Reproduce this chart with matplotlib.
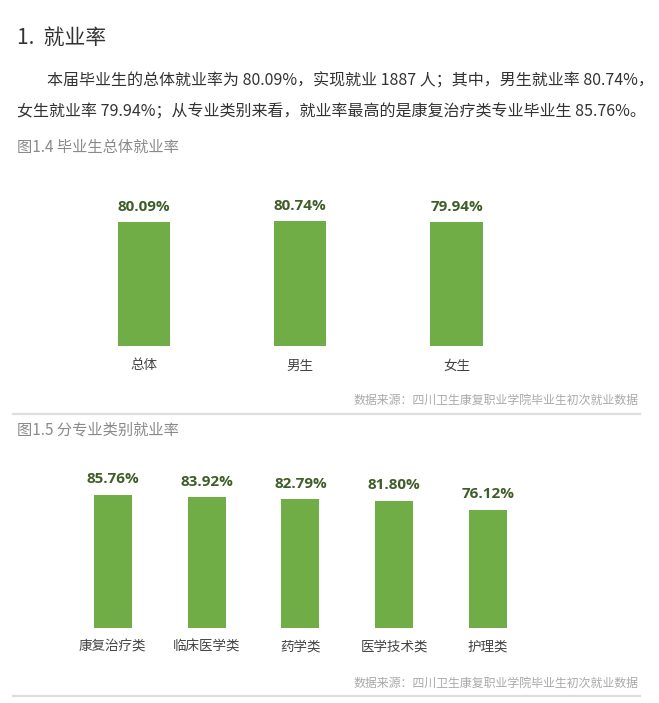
import matplotlib.pyplot as plt

plt.rcParams['font.family'] = ['Noto Sans CJK SC', 'DejaVu Sans']

# ── Data ──────────────────────────────────────────────────────────────────────
overall_cats = ["总体", "男生", "女生"]
overall_rates = [80.09, 80.74, 79.94]

major_cats = ["康复治疗类", "临床医学类", "药学类", "医学技术类", "护理类"]
major_rates = [85.76, 83.92, 82.79, 81.80, 76.12]

heading = "1.  就业率"
para_1 = "本届毕业生的总体就业率为 80.09%，实现就业 1887 人；其中，男生就业率 80.74%，"
para_2 = "女生就业率 79.94%；从专业类别来看，就业率最高的是康复治疗类专业毕业生 85.76%。"
title_1 = "图1.4 毕业生总体就业率"
title_2 = "图1.5 分专业类别就业率"
source = "数据来源：四川卫生康复职业学院毕业生初次就业数据"

bar_color = "#70ad47"
val_color = "#3e5e27"

W, H = 659, 703
fig = plt.figure(figsize=(W / 100, H / 100), dpi=100)


def px(x, y):
    # pixel coords (top-left origin) -> figure fraction
    return x / W, 1 - y / H


def bar_panel(left, right, zero_y, cats, vals, width):
    ax = fig.add_axes([left / W, 1 - zero_y / H, (right - left) / W, 155 / H])
    xs = range(len(cats))
    ax.bar(xs, vals, width=width, color=bar_color)
    ax.set_xlim(-0.5, len(cats) - 0.5)
    ax.set_ylim(0, 100)
    for x, v in zip(xs, vals):
        ax.annotate(f"{v:.2f}%", (x, v), textcoords="offset points",
                    xytext=(0, 6), ha="center", va="bottom",
                    fontsize=11, fontweight="bold", color=val_color,
                    family=["Open Sans", "DejaVu Sans"])
        ax.annotate(cats[x], (x, 0), textcoords="offset points",
                    xytext=(0, -9), ha="center", va="top",
                    fontsize=9.75, color="#444444")
    ax.axis("off")
    return ax


def divider(y):
    fig.add_artist(plt.Line2D([13 / W, 640 / W], [1 - y / H] * 2,
                              color="#dddddd", lw=1.6))


# ── Text block ────────────────────────────────────────────────────────────────
fig.text(*px(17, 38), heading, fontsize=15, color="#333333", va="center")
fig.text(*px(47, 81), para_1, fontsize=11.5, color="#333333", va="center")
fig.text(*px(17, 112), para_2, fontsize=11.5, color="#333333", va="center")
fig.text(*px(17, 147), title_1, fontsize=11, color="#8a8a8a", va="center")

# ── Chart 1 ───────────────────────────────────────────────────────────────────
bar_panel(65.8, 534.8, 346, overall_cats, overall_rates, 0.335)
fig.text(*px(638, 400), source, fontsize=8.6, color="#aaaaaa",
         ha="right", va="center")
divider(414)

# ── Chart 2 ───────────────────────────────────────────────────────────────────
fig.text(*px(17, 430), title_2, fontsize=11, color="#8a8a8a", va="center")
bar_panel(65.9, 535, 627.5, major_cats, major_rates, 0.405)
fig.text(*px(638, 683), source, fontsize=8.6, color="#aaaaaa",
         ha="right", va="center")
divider(696)

plt.savefig("out.png", dpi=100)
